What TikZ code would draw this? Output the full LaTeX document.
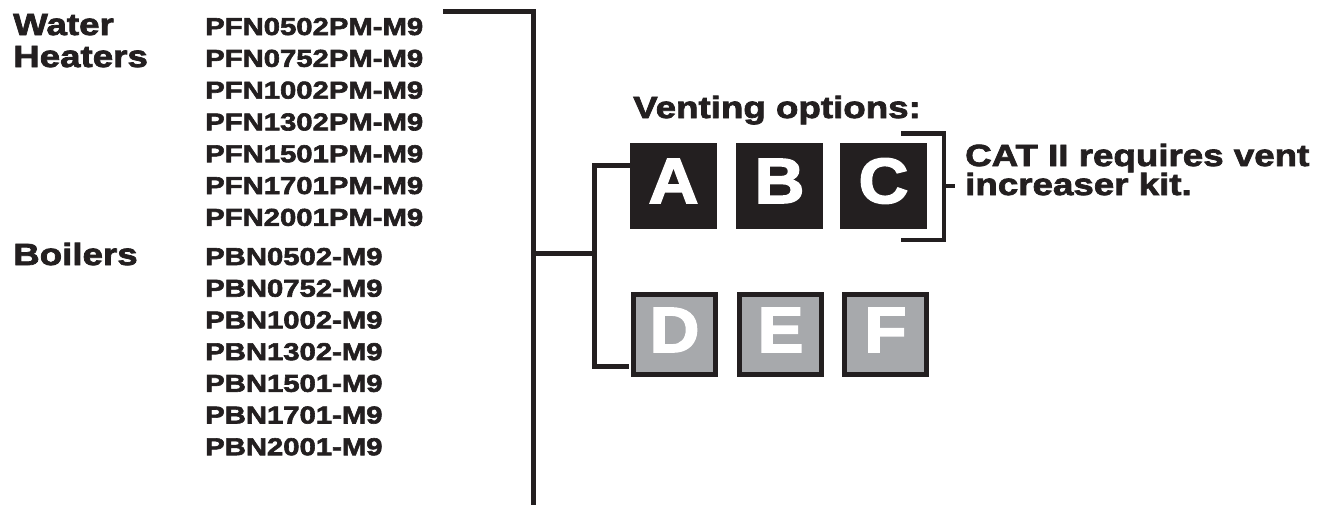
\documentclass[tikz,border=0pt]{standalone}
\usepackage{fontspec}
\newfontfamily\hv[FakeStretch=1.2,FakeBold=2.5]{Liberation Sans Bold}
\newfontfamily\hvl[FakeStretch=1.08,FakeBold=2.5]{Liberation Sans Bold}
\definecolor{ink}{HTML}{231F20}
\definecolor{greyfill}{HTML}{A7A9AC}
\begin{document}
\begin{tikzpicture}[x=1pt,y=-1pt,
  lbl/.style={anchor=base west,inner sep=0pt,text=ink,font=\hv\fontsize{30.6}{30.6}\selectfont},
  model/.style={anchor=base west,inner sep=0pt,text=ink,font=\hv\fontsize{24.4}{24.4}\selectfont},
  conn/.style={draw=ink,line width=5pt,line join=miter,line cap=butt},
  blackbox/.style={fill=ink,draw=none,minimum width=87pt,minimum height=86pt,inner sep=0pt},
  greybox/.style={fill=greyfill,draw=ink,line width=5pt,minimum width=82pt,minimum height=80pt,inner sep=0pt},
  letter/.style={anchor=base,inner sep=0pt,text=white,font=\hvl\fontsize{64}{64}\selectfont}]
\useasboundingbox (0,0) rectangle (1319,504);

% left labels
\node[lbl] (water) at (13,35) {Water};
\node[lbl] (heaters) at (13,67) {Heaters};
\node[lbl] (boilers) at (13,265) {Boilers};

% model lists
\foreach \t [count=\i from 0] in {PFN0502PM-M9,PFN0752PM-M9,PFN1002PM-M9,PFN1302PM-M9,PFN1501PM-M9,PFN1701PM-M9,PFN2001PM-M9}
  \node[model] (pfn\i) at (205,35+31.8*\i) {\t};
\foreach \t [count=\i from 0] in {PBN0502-M9,PBN0752-M9,PBN1002-M9,PBN1302-M9,PBN1501-M9,PBN1701-M9,PBN2001-M9}
  \node[model] (pbn\i) at (205,265+31.7*\i) {\t};

% big bracket
\coordinate (btop) at (443,11.7);
\coordinate (bbot) at (443,507);
\coordinate (bmid) at (533,253.5);
\coordinate (junc) at (594,253.5);
\draw[conn] (btop) -| (bmid) |- (bbot);
\draw[conn] (bmid) -- (junc);

% venting options
\node[lbl] (vent) at (633,118) {Venting options:};

% boxes
\node[blackbox] (A) at (673.5,186) {};
\node[blackbox] (B) at (779.5,186) {};
\node[blackbox] (C) at (883.5,186) {};
\node[greybox] (D) at (674.5,334.5) {};
\node[greybox] (E) at (780.5,334.5) {};
\node[greybox] (F) at (885.5,334.5) {};
\node[letter] (la) at (673.5,203) {A};
\node[letter] (lb) at (779.5,203) {B};
\node[letter] (lc) at (883.5,203) {C};
\node[letter] (ld) at (674.5,352) {D};
\node[letter] (le) at (780.5,352) {E};
\node[letter] (lf) at (885.5,352) {F};

% branch to A and D
\coordinate (ja) at (594,165);
\coordinate (jd) at (594,366);
\draw[conn] (A.west |- ja) -- (ja) -- (jd) -- ([xshift=-2.5pt]D.west |- jd);

% bracket on C
\coordinate (ctop) at (901,133.5);
\coordinate (cbot) at (901,240);
\coordinate (cmid) at (944,186);
\coordinate (ctick) at (955,186);
\draw[draw=ink,line width=4.5pt,line join=miter] (ctop) -| (cmid) |- (cbot);
\draw[draw=ink,line width=4.5pt] (cmid) -- (ctick);

% CAT note
\node[lbl] (cat1) at (965,166) {CAT II requires vent};
\node[lbl] (cat2) at (965,195) {increaser kit.};
\end{tikzpicture}
\end{document}
